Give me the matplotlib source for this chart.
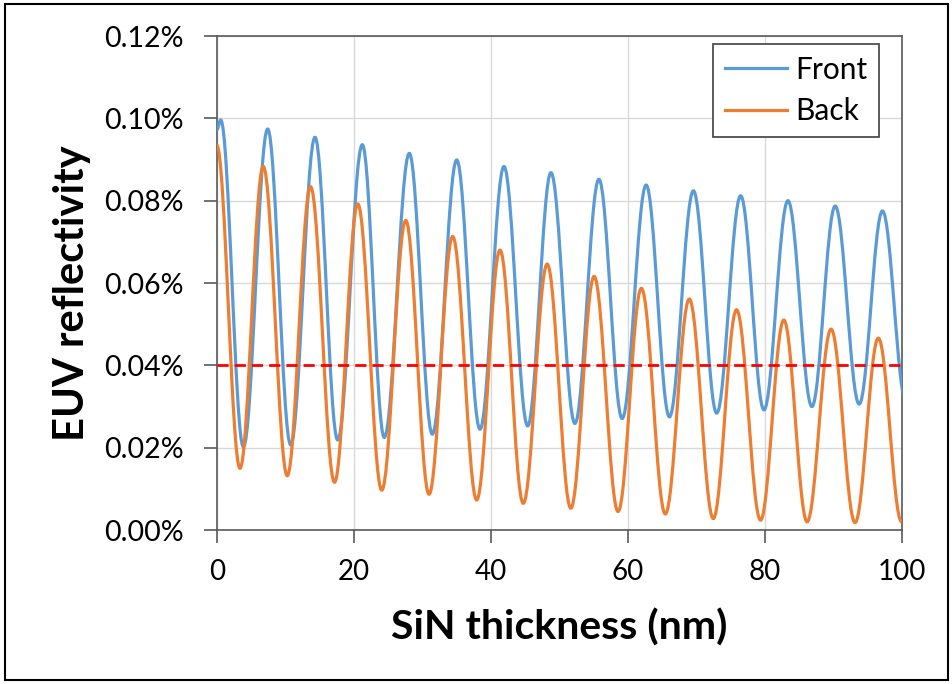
import matplotlib
matplotlib.use("Agg")
import matplotlib.pyplot as plt
import matplotlib.patches as patches
from matplotlib.path import Path
from matplotlib.ticker import PercentFormatter, MultipleLocator

# turning points of each curve: thickness (nm), reflectivity (%)
front_x = [0.0, 0.58, 3.9, 7.44, 10.8, 14.35, 17.66, 21.26, 24.47, 28.12, 31.48,
           35.04, 38.44, 41.94, 45.4, 48.8, 52.3, 55.8, 59.2, 62.7, 66.1,
           69.6, 73.0, 76.5, 79.9, 83.4, 86.9, 90.3, 93.8, 97.2, 100.65]
front_y = [0.0972, 0.0996, 0.0202, 0.0974, 0.0207, 0.0954, 0.0219, 0.0936, 0.0225, 0.0915, 0.0233,
           0.0899, 0.0245, 0.0883, 0.0253, 0.0868, 0.0259, 0.0852, 0.0271, 0.0838, 0.0275,
           0.0824, 0.0284, 0.0812, 0.0292, 0.0800, 0.0300, 0.0787, 0.0306, 0.0775, 0.0312]

back_x = [0.0, 3.4, 6.8, 10.3, 13.7, 17.2, 20.6, 24.1, 27.6, 31.0,
          34.45, 37.96, 41.36, 44.76, 48.25, 51.7, 55.1, 58.6, 62.0, 65.5,
          69.0, 72.5, 75.9, 79.4, 82.8, 86.2, 89.7, 93.2, 96.6, 100.0]
back_y = [0.0935, 0.0150, 0.0883, 0.0132, 0.0834, 0.0116, 0.0792, 0.0097, 0.0752, 0.0087,
          0.0713, 0.0073, 0.0680, 0.0065, 0.0646, 0.0053, 0.0616, 0.0045, 0.0587, 0.0039,
          0.0561, 0.0028, 0.0535, 0.0024, 0.0510, 0.0020, 0.0488, 0.0018, 0.0466, 0.0020]

limit = 0.04  # %

blue = "#5B9BD5"
orange = "#ED7D31"


def smooth_path(xs, ys, k=0.364):
    # cubic segments with flat tangents at every turning point
    verts = [(xs[0], ys[0])]
    codes = [Path.MOVETO]
    for x0, y0, x1, y1 in zip(xs[:-1], ys[:-1], xs[1:], ys[1:]):
        dx = x1 - x0
        verts += [(x0 + k * dx, y0), (x1 - k * dx, y1), (x1, y1)]
        codes += [Path.CURVE4] * 3
    return Path(verts, codes)


fig = plt.figure(figsize=(9.53, 6.84), dpi=100)
ax = fig.add_axes([0.2274, 0.2251, 0.7187, 0.7222])

for xs, ys, c, name in [(front_x, front_y, blue, "Front"), (back_x, back_y, orange, "Back")]:
    ax.add_patch(patches.PathPatch(smooth_path(xs, ys), facecolor="none",
                                   edgecolor=c, lw=2.3, zorder=3))
    ax.plot([], [], color=c, lw=2.3, label=name)

ax.axhline(limit, color="#FF0000", lw=2, dashes=(4, 2.2), zorder=4)

ax.set_xlim(0, 100)
ax.set_ylim(0, 0.12)
ax.xaxis.set_major_locator(MultipleLocator(20))
ax.yaxis.set_major_locator(MultipleLocator(0.02))
ax.yaxis.set_major_formatter(PercentFormatter(xmax=100, decimals=2))
ax.grid(True, color="#D9D9D9", lw=1)
ax.set_axisbelow(True)

for s in ax.spines.values():
    s.set_color("#595959")
    s.set_linewidth(1.2)

ax.tick_params(direction="out", length=9.5, width=1.2, color="#595959")
ax.tick_params(axis="x", pad=11)
ax.tick_params(axis="y", pad=14)
for lab in ax.get_xticklabels():
    lab.set_fontfamily("Lato")
    lab.set_fontsize(20)
for lab in ax.get_yticklabels():
    lab.set_fontfamily("Lato")
    lab.set_fontsize(20.5)

ax.set_xlabel("SiN thickness (nm)", family="Lato", weight="bold", fontsize=29.5)
ax.set_ylabel("EUV reflectivity", family="Lato", weight="bold", fontsize=30)
ax.xaxis.set_label_coords(0.5, -0.16)
ax.yaxis.set_label_coords(-0.183, 0.48)

leg = ax.legend(loc="upper right", bbox_to_anchor=(0.967, 0.984), borderaxespad=0,
                prop={"family": "Lato", "size": 21.5}, fancybox=False, framealpha=1,
                edgecolor="#404040", handlelength=2.1, handletextpad=0.25,
                labelspacing=0.45, borderpad=0.4)
leg.get_frame().set_linewidth(1.2)

fig.patches.append(patches.Rectangle((5 / 953, 4 / 684), 943 / 953, 676 / 684,
                                     transform=fig.transFigure, fill=False,
                                     edgecolor="black", lw=1.5))

plt.savefig("out.png", dpi=100)
